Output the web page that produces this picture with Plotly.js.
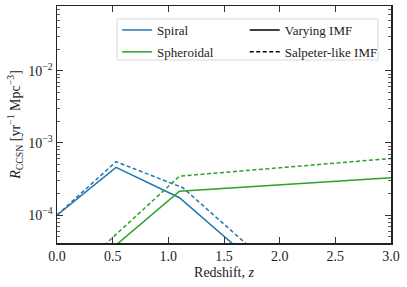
<!DOCTYPE html>
<html>
<head>
<meta charset="utf-8">
<script src="https://cdn.plot.ly/plotly-3.0.1.min.js"></script>
<style>html,body{margin:0;padding:0;background:#fff;}#chart{width:407px;height:287px;}</style>
</head>
<body>
<div id="chart"></div>
<script>
// Redshift samples and rates
const zSpiralVary = [0, 0.53, 1.1, 1.65];
const rSpiralVary = [1.0e-4, 4.6e-4, 1.74e-4, 3.2e-5];
const zSpiralSalp = [0, 0.53, 1.13, 1.75];
const rSpiralSalp = [1.0e-4, 5.5e-4, 2.4e-4, 3.4e-5];
const zSpheroidVary = [0.48, 1.1, 3.0];
const rSpheroidVary = [3.3e-5, 2.15e-4, 3.3e-4];
const zSpheroidSalp = [0.38, 1.1, 3.0];
const rSpheroidSalp = [3.3e-5, 3.47e-4, 6.1e-4];
const xTicks = [0, 0.5, 1.0, 1.5, 2.0, 2.5, 3.0];
const xTickText = ['0.0', '0.5', '1.0', '1.5', '2.0', '2.5', '3.0'];
const yTicks = [1e-4, 1e-3, 1e-2];
const yTickText = ['10<sup>−4</sup>', '10<sup>−3</sup>', '10<sup>−2</sup>'];

const blue = '#1f77b4', green = '#2ca02c';
const minorVals = [];
[1e-5, 1e-4, 1e-3, 1e-2].forEach(d => { for (let k = 2; k <= 9; k++) minorVals.push(k * d); });

const dash = '4px,2.5px';
const traces = [
  {x: zSpiralVary, y: rSpiralVary, mode: 'lines', name: 'Spiral', line: {color: blue, width: 1.5}, legend: 'legend', legendgroup: 'a'},
  {x: zSpiralSalp, y: rSpiralSalp, mode: 'lines', showlegend: false, line: {color: blue, width: 1.5, dash: dash}},
  {x: zSpheroidVary, y: rSpheroidVary, mode: 'lines', name: 'Spheroidal', line: {color: green, width: 1.5}, legend: 'legend', legendgroup: 'b'},
  {x: zSpheroidSalp, y: rSpheroidSalp, mode: 'lines', showlegend: false, line: {color: green, width: 1.5, dash: dash}},
  {x: [null], y: [null], mode: 'lines', name: 'Varying IMF', line: {color: '#000', width: 1.5}, legend: 'legend2', legendgroup: 'c'},
  {x: [null], y: [null], mode: 'lines', name: 'Salpeter-like IMF', line: {color: '#000', width: 1.5, dash: dash}, legend: 'legend2', legendgroup: 'd'}
];

const ff = 'Liberation Serif, DejaVu Serif, serif';
const font = {family: ff, size: 14, color: '#222'};
const legFont = {family: ff, size: 13, color: '#222'};

const layout = {
  width: 407, height: 287,
  margin: {l: 57, r: 16, t: 6, b: 44},
  paper_bgcolor: '#fff', plot_bgcolor: '#fff',
  font: font,
  showlegend: true,
  legend: {
    orientation: 'v', x: 0.18, y: 0.962, xanchor: 'left', yanchor: 'top',
    bgcolor: 'rgba(0,0,0,0)', borderwidth: 0, font: legFont, tracegroupgap: 2, traceorder: 'grouped'
  },
  legend2: {
    orientation: 'v', x: 0.562, y: 0.962, xanchor: 'left', yanchor: 'top',
    bgcolor: 'rgba(0,0,0,0)', borderwidth: 0, font: legFont, tracegroupgap: 2, traceorder: 'grouped'
  },
  shapes: [{
    type: 'rect', xref: 'paper', yref: 'paper', x0: 0.18, x1: 0.961, y0: 0.772, y1: 0.945,
    line: {color: '#d8d8d8', width: 1}, fillcolor: 'rgba(255,255,255,0.8)', layer: 'above'
  }],
  xaxis: {
    range: [0, 3], tickmode: 'array', tickvals: xTicks, ticktext: xTickText,
    ticks: 'inside', ticklen: 6, tickwidth: 1, tickcolor: '#333',
    showline: true, linecolor: '#222', linewidth: 1.5, mirror: 'allticks',
    showgrid: false, zeroline: false,
    tickfont: font,
    title: {text: 'Redshift, <i>z</i>', font: font, standoff: 4}
  },
  yaxis: {
    type: 'log', range: [-4.387, -1.1],
    tickmode: 'array', tickvals: yTicks, ticktext: yTickText,
    ticks: 'inside', ticklen: 6, tickwidth: 1, tickcolor: '#333',
    minor: {tickmode: 'array', tickvals: minorVals, ticks: 'inside', ticklen: 3, tickwidth: 0.8, tickcolor: '#333', showgrid: false},
    showline: true, linecolor: '#222', linewidth: 1.5, mirror: 'allticks',
    showgrid: false, zeroline: false,
    tickfont: font,
    title: {text: '<i>R</i><sub>CCSN</sub> [yr<sup>−1</sup> Mpc<sup>−3</sup>]', font: font, standoff: 4}
  }
};

Plotly.newPlot('chart', traces, layout, {staticPlot: true, displayModeBar: false});
</script>
</body>
</html>
